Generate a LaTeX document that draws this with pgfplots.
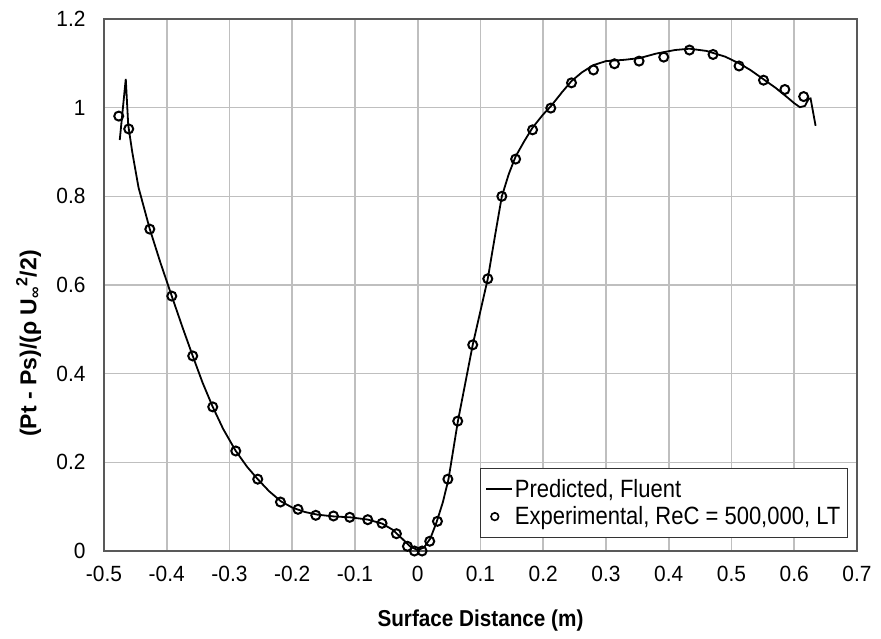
\documentclass[border=0pt]{standalone}
\usepackage{pgfplots}
\pgfplotsset{compat=1.18}
\usepackage{fontspec}
\setmainfont{Liberation Sans}
\newfontfamily\tickfont{Liberation Sans}[FakeStretch=0.95]
\newfontfamily\legfont{Liberation Sans}[FakeStretch=0.88]
\newfontfamily\labfont{Liberation Sans}[FakeStretch=0.9]
\definecolor{frame}{HTML}{595959}
\definecolor{gridc}{HTML}{BFBFBF}
\begin{document}
\begin{tikzpicture}
\begin{axis}[
  scale only axis, width=753pt, height=532pt,
  xmin=-0.5, xmax=0.7, ymin=0, ymax=1.2,
  xtick={-0.5,-0.4,-0.3,-0.2,-0.1,0,0.1,0.2,0.3,0.4,0.5,0.6,0.7},
  ytick={0,0.2,0.4,0.6,0.8,1,1.2},
  /pgf/number format/assume math mode=true,
  tick label style={font=\tickfont\fontsize{22}{26}\selectfont},
  xticklabel style={yshift=-12pt},
  yticklabel style={xshift=-15pt},
  major tick length=0pt,
  grid=major,
  major grid style={gridc, line width=1.6pt},
  axis line style={frame, line width=1.6pt},
  xlabel={\bfseries Surface Distance (m)},
  ylabel={\bfseries (Pt - Ps)/(ρ U\textsubscript{∞}\textsuperscript{2}/2)},
  xlabel style={font=\labfont\fontsize{23}{26}\selectfont, at={(axis description cs:0.5,-0.13)}, anchor=center},
  ylabel style={font=\fontsize{23}{26}\selectfont, at={(axis description cs:-0.1,0.39)}, anchor=center},
  legend cell align=left,
  legend style={at={(axis description cs:0.988,0.0244)}, anchor=south east,
    draw=black!80, line width=1.2pt, fill=white,
    font=\legfont\fontsize{25}{28}\selectfont,
    inner xsep=5pt, inner ysep=9pt, row sep=4pt},
  legend image code/.code={\draw[black, line width=2pt] (0cm,0cm) -- (0.9cm,0cm);},
]
\addplot[black, line width=1.8pt, mark=none] coordinates {
(-0.4749,0.927) (-0.4653,1.065) (-0.4614,0.961) (-0.455,0.90) (-0.445,0.82)
(-0.427,0.726) (-0.41,0.65) (-0.392,0.575) (-0.375,0.505) (-0.3586,0.44)
(-0.343,0.38) (-0.3267,0.325) (-0.31,0.275) (-0.29,0.2256) (-0.272,0.19)
(-0.255,0.162) (-0.237,0.135) (-0.218,0.112) (-0.2,0.098) (-0.18,0.088)
(-0.16,0.082) (-0.134,0.078) (-0.108,0.076) (-0.08,0.071) (-0.057,0.062)
(-0.04,0.048) (-0.025,0.028) (-0.012,0.01) (0.0,0.002) (0.01,0.008)
(0.02,0.028) (0.03,0.065) (0.04,0.11) (0.049,0.162) (0.064,0.293)
(0.0876,0.465) (0.1116,0.614) (0.123,0.71) (0.134,0.80) (0.145,0.85)
(0.156,0.89) (0.17,0.925) (0.183,0.955) (0.2,0.985) (0.212,1.003)
(0.23,1.035) (0.245,1.06) (0.262,1.08) (0.28,1.096) (0.3,1.105)
(0.33,1.108) (0.354,1.112) (0.38,1.122) (0.41,1.13) (0.433,1.133)
(0.46,1.128) (0.49,1.115) (0.512,1.100) (0.53,1.085) (0.551,1.064)
(0.57,1.045) (0.59,1.022) (0.6,1.01) (0.609,1.001) (0.617,1.004)
(0.623,1.02) (0.626,1.021) (0.63,0.99) (0.634,0.959)
};
\addlegendentry{Predicted, Fluent}
\addplot[only marks, mark=o, mark size=4.5pt, mark options={black, line width=2pt, fill=white},
  legend image code/.code={\draw[black, line width=1.6pt, fill=white] (0.3cm,0cm) circle (3.8pt);}]
coordinates {
(-0.4765,0.981) (-0.4606,0.952) (-0.427,0.726) (-0.392,0.575) (-0.3586,0.44)
(-0.3267,0.325) (-0.29,0.2256) (-0.255,0.162) (-0.2188,0.1105) (-0.1908,0.094)
(-0.1625,0.0805) (-0.1343,0.079) (-0.1084,0.076) (-0.0797,0.0706) (-0.0569,0.0625)
(-0.034,0.039) (-0.0164,0.0106) (-0.0053,0.0) (0.0069,0.0) (0.0191,0.022)
(0.0314,0.067) (0.048,0.162) (0.0637,0.293) (0.0876,0.465) (0.1116,0.614)
(0.134,0.80) (0.156,0.884) (0.183,0.95) (0.212,0.999) (0.245,1.056)
(0.28,1.085) (0.3135,1.099) (0.3527,1.105) (0.392,1.114) (0.433,1.130)
(0.4706,1.12) (0.512,1.094) (0.551,1.062) (0.585,1.041) (0.615,1.025)
};
\addlegendentry{Experimental, ReC = 500,000, LT}
\coordinate (ll) at (rel axis cs:0,0);
\coordinate (ur) at (rel axis cs:1,1);
\end{axis}
\path ([xshift=-104pt,yshift=-88pt]ll) ([xshift=24pt,yshift=19pt]ur);
\end{tikzpicture}
\end{document}
